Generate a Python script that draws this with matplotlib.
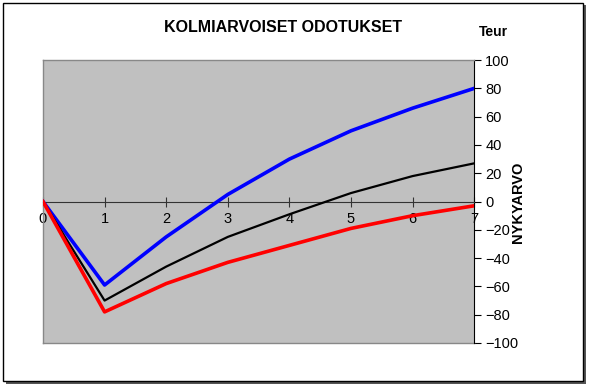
import matplotlib
matplotlib.use("Agg")
import matplotlib.pyplot as plt
from matplotlib.patches import Rectangle

plt.rcParams['font.family'] = ['Liberation Sans', 'DejaVu Sans']

years = [0, 1, 2, 3, 4, 5, 6, 7]
optimistic = [0, -59, -25, 5, 30, 50, 66, 80]
expected = [0, -70, -46, -25, -9, 6, 18, 27]
pessimistic = [0, -78, -58, -43, -31, -19, -10, -3]
y_ticks = [-100, -80, -60, -40, -20, 0, 20, 40, 60, 80, 100]

fig = plt.figure(figsize=(5.89, 3.87), dpi=100)
fig.patch.set_facecolor('white')
# outer frame with shadow
fig.patches.append(Rectangle((0.010, 0.008), 0.985, 0.978, transform=fig.transFigure,
                             facecolor='#555555', edgecolor='none', zorder=-2))
fig.patches.append(Rectangle((0.005, 0.015), 0.985, 0.978, transform=fig.transFigure,
                             facecolor='white', edgecolor='black', linewidth=1.0, zorder=-1))

ax = fig.add_axes([0.073, 0.1137, 0.732, 0.731])
ax.set_facecolor('#c0c0c0')
ax.plot(years, optimistic, color='#0000ff', linewidth=2.6, zorder=3)
ax.plot(years, expected, color='black', linewidth=1.6, zorder=3)
ax.plot(years, pessimistic, color='#ff0000', linewidth=2.6, zorder=3)

ax.set_xlim(0, 7)
ax.set_ylim(-100, 100)
ax.axhline(-100, color='#888888', linewidth=1.0, clip_on=False, zorder=2)
ax.set_yticks(y_ticks)
ax.yaxis.tick_right()
ax.tick_params(axis='y', direction='out', length=5, width=0.8, labelsize=10.5, pad=3)
ax.set_xticks(years)
ax.spines['bottom'].set_position(('data', 0))
ax.spines['bottom'].set_color('#333333')
ax.spines['bottom'].set_linewidth(0.8)
ax.tick_params(axis='x', direction='inout', length=7, width=0.8, labelsize=10.5, pad=4,
               color='#333333')
for s in ['left', 'top']:
    ax.spines[s].set_color('#888888')
    ax.spines[s].set_linewidth(1.0)
ax.spines['right'].set_color('black')
ax.spines['right'].set_linewidth(0.8)

fig.text(0.880, 0.477, 'NYKYARVO', rotation=90, ha='center', va='center',
         fontsize=10.5, fontweight='bold')
fig.text(0.481, 0.928, 'KOLMIARVOISET ODOTUKSET', ha='center', va='center',
         fontsize=11.5, fontweight='bold')
fig.text(0.838, 0.918, 'Teur', ha='center', va='center', fontsize=10, fontweight='bold')

fig.savefig('out.png', dpi=100)
